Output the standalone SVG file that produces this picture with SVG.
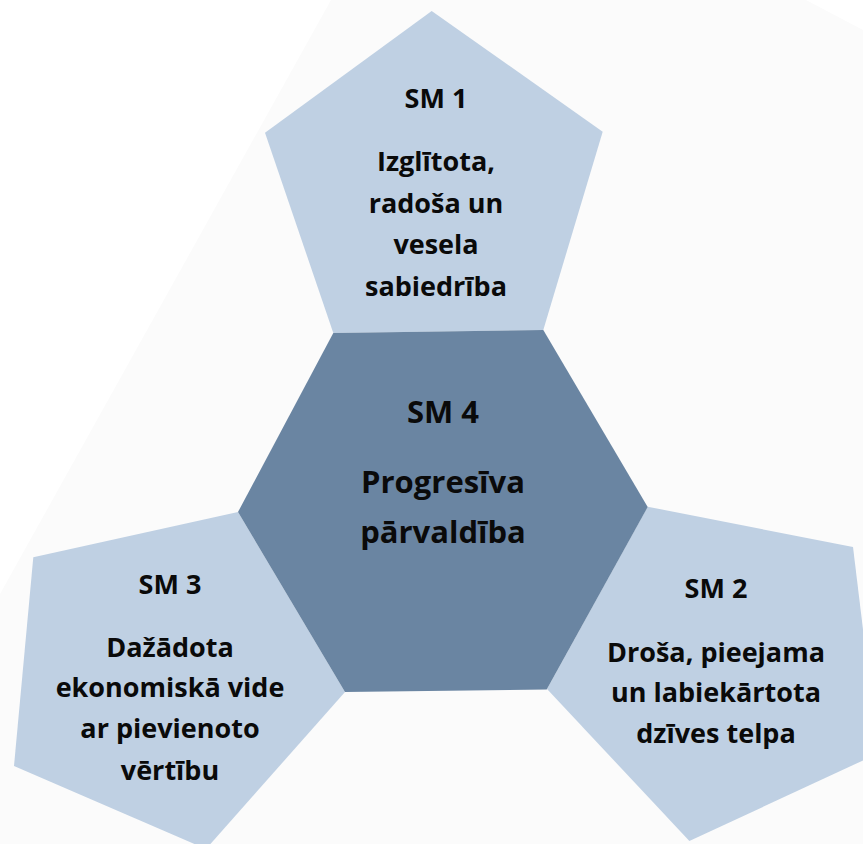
<svg xmlns="http://www.w3.org/2000/svg" width="863" height="844" viewBox="0 0 863 844">
  <style>
    .light { fill: #bfd0e3; }
    .dark { fill: #6a85a2; }
    .t { font-family: "Open Sans", "Liberation Sans", sans-serif; font-weight: 700; fill: #0a0a0a; text-anchor: middle; }
    .s { font-size: 27px; }
    .b { font-size: 31px; }
  </style>
  <rect width="863" height="844" fill="#ffffff"/>
  <polygon points="331,0 806,0 863,30 863,844 0,844 0,594" fill="#fbfbfb"/>
  <g id="connectors"></g>
  <g id="sm1">
    <polygon class="light" points="431.7,11 602.7,131.7 543.3,330 333.3,333 265,132.7"/>
    <text class="t s" x="436" y="108">SM 1</text>
    <text class="t s" x="436" y="171">Izglītota,</text>
    <text class="t s" x="436" y="213">radoša un</text>
    <text class="t s" x="436" y="254">vesela</text>
    <text class="t s" x="436" y="296">sabiedrība</text>
  </g>
  <g id="sm3">
    <polygon class="light" points="238,512 33.3,557.3 14,766 206,849 345,692"/>
    <text class="t s" x="170" y="594">SM 3</text>
    <text class="t s" x="170" y="657">Dažādota</text>
    <text class="t s" x="170" y="697">ekonomiskā vide</text>
    <text class="t s" x="170" y="738">ar pievienoto</text>
    <text class="t s" x="170" y="780">vērtību</text>
  </g>
  <g id="sm2">
    <polygon class="light" points="647.7,506.7 853,547 878,753.5 689.4,841 547,689"/>
    <text class="t s" x="716" y="598">SM 2</text>
    <text class="t s" x="716" y="662">Droša, pieejama</text>
    <text class="t s" x="716" y="702">un labiekārtota</text>
    <text class="t s" x="716" y="743">dzīves telpa</text>
  </g>
  <g id="sm4">
    <polygon class="dark" points="333.3,333 543.3,330 647.7,507 546.7,689.5 345,692 238,512"/>
    <text class="t b" x="443" y="423">SM 4</text>
    <text class="t b" x="443" y="493">Progresīva</text>
    <text class="t b" x="443" y="543">pārvaldība</text>
  </g>
</svg>
